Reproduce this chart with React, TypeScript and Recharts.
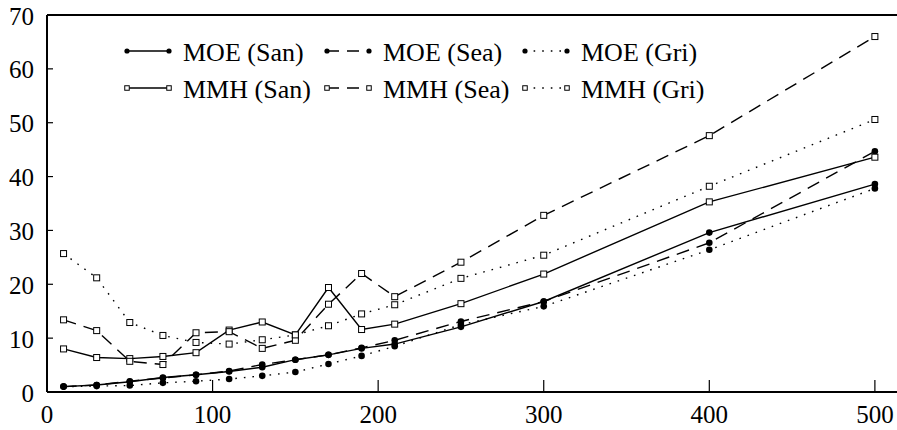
import React from 'react';
import { LineChart, Line, XAxis, YAxis } from 'recharts';

// ---- data ----
const X_VALUES = [10, 30, 50, 70, 90, 110, 130, 150, 170, 190, 210, 250, 300, 400, 500];
const MOE_SAN = [1.0, 1.3, 1.9, 2.7, 3.2, 3.8, 4.6, 6.0, 6.9, 8.1, 8.9, 12.1, 16.8, 29.6, 38.6];
const MOE_SEA = [1.0, 1.3, 2.0, 2.6, 3.2, 3.9, 5.1, 6.0, 6.9, 8.2, 9.6, 13.1, 16.8, 27.7, 44.7];
const MOE_GRI = [1.0, 1.1, 1.2, 1.7, 2.0, 2.4, 3.0, 3.7, 5.2, 6.7, 8.5, 12.5, 15.9, 26.4, 37.8];
const MMH_SAN = [8.0, 6.4, 6.2, 6.6, 7.3, 11.5, 13.0, 10.6, 19.4, 11.6, 12.6, 16.4, 21.9, 35.3, 43.6];
const MMH_SEA = [13.4, 11.4, 5.7, 5.1, 11.0, 11.2, 8.1, 9.6, 16.3, 22.0, 17.7, 24.1, 32.8, 47.6, 66.0];
const MMH_GRI = [25.7, 21.2, 12.9, 10.5, 9.2, 8.9, 9.7, 10.6, 12.3, 14.5, 16.2, 21.1, 25.4, 38.2, 50.6];
const X_TICKS = [0, 100, 200, 300, 400, 500];
const Y_TICKS = [0, 10, 20, 30, 40, 50, 60, 70];
const SERIES_NAMES = ['MOE (San)', 'MOE (Sea)', 'MOE (Gri)', 'MMH (San)', 'MMH (Sea)', 'MMH (Gri)'];
const SERIES_KEYS = ['moeSan', 'moeSea', 'moeGri', 'mmhSan', 'mmhSea', 'mmhGri'];
const SERIES_VALUES = [MOE_SAN, MOE_SEA, MOE_GRI, MMH_SAN, MMH_SEA, MMH_GRI];

const data = X_VALUES.map((x, i) => {
  const row: any = { x };
  SERIES_KEYS.forEach((k, j) => {
    row[k] = SERIES_VALUES[j][i];
  });
  return row;
});

// ---- styles / layout ----
const FONT = 'Times New Roman, Liberation Serif, DejaVu Serif, serif';
const DASH: Record<string, string | undefined> = {
  San: undefined,
  Sea: '13 8',
  Gri: '1.6 7',
};
const styleOf = (name: string) => {
  const kind = name.startsWith('MOE') ? 'circle' : 'square';
  const region = name.slice(5, 8);
  return { kind, dash: DASH[region] };
};

const PLOT_LEFT = 47;
const PLOT_TOP = 15;
const PLOT_BOTTOM = 392;
const CHART_W = 920;
const CHART_H = 430;
const Y_AXIS_W = 40;
const X_AXIS_H = 38;

const Marker = ({ cx, cy, kind, small }: any) => {
  if (cx == null || cy == null) return null;
  if (kind === 'circle') {
    return <circle cx={cx} cy={cy} r={small ? 2.6 : 3.3} fill="#000" stroke="none" />;
  }
  const s = small ? 4.5 : 6;
  return (
    <rect x={cx - s / 2} y={cy - s / 2} width={s} height={s} fill="#fff" stroke="#000" strokeWidth={1} />
  );
};

const XTick = (props: any) => {
  const { x, payload } = props;
  return (
    <g>
      <line x1={x} x2={x} y1={PLOT_BOTTOM} y2={PLOT_BOTTOM - 12} stroke="#000" strokeWidth={1.2} />
      <text x={x} y={PLOT_BOTTOM + 22} textAnchor="middle" dominantBaseline="central" fontFamily={FONT} fontSize={25} fill="#000">
        {payload.value}
      </text>
    </g>
  );
};

const YTick = (props: any) => {
  const { y, payload } = props;
  return (
    <g>
      <line x1={PLOT_LEFT} x2={PLOT_LEFT + 6} y1={y} y2={y} stroke="#000" strokeWidth={1.2} />
      <text x={PLOT_LEFT - 13} y={y + 1} textAnchor="end" dominantBaseline="central" fontFamily={FONT} fontSize={25} fill="#000">
        {payload.value}
      </text>
    </g>
  );
};

const LEGEND_COL_X = [127, 327, 525];
const LEGEND_ROW_Y = [51, 88];

const LegendOverlay = () => (
  <svg width={897} height={120} style={{ position: 'absolute', left: 0, top: 0, pointerEvents: 'none' }}>
    {SERIES_NAMES.map((name, i) => {
      const { kind, dash } = styleOf(name);
      const col = i % 3;
      const row = Math.floor(i / 3);
      const x0 = LEGEND_COL_X[col];
      const x1 = x0 + 42;
      const y = LEGEND_ROW_Y[row];
      return (
        <g key={name}>
          <line x1={x0} x2={x1} y1={y} y2={y} stroke="#000" strokeWidth={1.4} strokeDasharray={dash === '13 8' ? '12 8' : dash} />
          <Marker cx={x0} cy={y} kind={kind} small />
          <Marker cx={x1} cy={y} kind={kind} small />
          <text x={x1 + 14} y={y + 1} dominantBaseline="central" fontFamily={FONT} fontSize={26} fill="#000">
            {name}
          </text>
        </g>
      );
    })}
  </svg>
);

export default function App() {
  return (
    <div style={{ position: 'absolute', left: 0, top: 0, width: 897, height: 430, overflow: 'hidden', background: '#fff' }}>
      <LineChart
        width={CHART_W}
        height={CHART_H}
        data={data}
        margin={{ top: PLOT_TOP - 1, right: 12, bottom: CHART_H - PLOT_BOTTOM - X_AXIS_H, left: PLOT_LEFT - Y_AXIS_W }}
      >
        <XAxis
          dataKey="x"
          type="number"
          domain={[0, 520]}
          ticks={X_TICKS}
          interval={0}
          height={X_AXIS_H}
          tickLine={false}
          axisLine={{ stroke: '#000', strokeWidth: 2 }}
          tick={(p: any) => <XTick {...p} />}
        />
        <XAxis
          xAxisId="top"
          orientation="top"
          dataKey="x"
          type="number"
          domain={[0, 520]}
          height={1}
          tick={false}
          tickLine={false}
          axisLine={{ stroke: '#000', strokeWidth: 2 }}
        />
        <YAxis
          type="number"
          domain={[0, 70]}
          ticks={Y_TICKS}
          interval={0}
          width={Y_AXIS_W}
          tickLine={false}
          axisLine={{ stroke: '#000', strokeWidth: 2 }}
          tick={(p: any) => <YTick {...p} />}
        />
        {SERIES_NAMES.map((name, i) => {
          const { kind, dash } = styleOf(name);
          return (
            <Line
              key={name}
              dataKey={SERIES_KEYS[i]}
              name={name}
              stroke="#000"
              strokeWidth={1.4}
              strokeDasharray={dash}
              isAnimationActive={false}
              dot={(p: any) => <Marker key={`${name}-${p.index}`} cx={p.cx} cy={p.cy} kind={kind} />}
              activeDot={false}
            />
          );
        })}
      </LineChart>
      <LegendOverlay />
    </div>
  );
}
